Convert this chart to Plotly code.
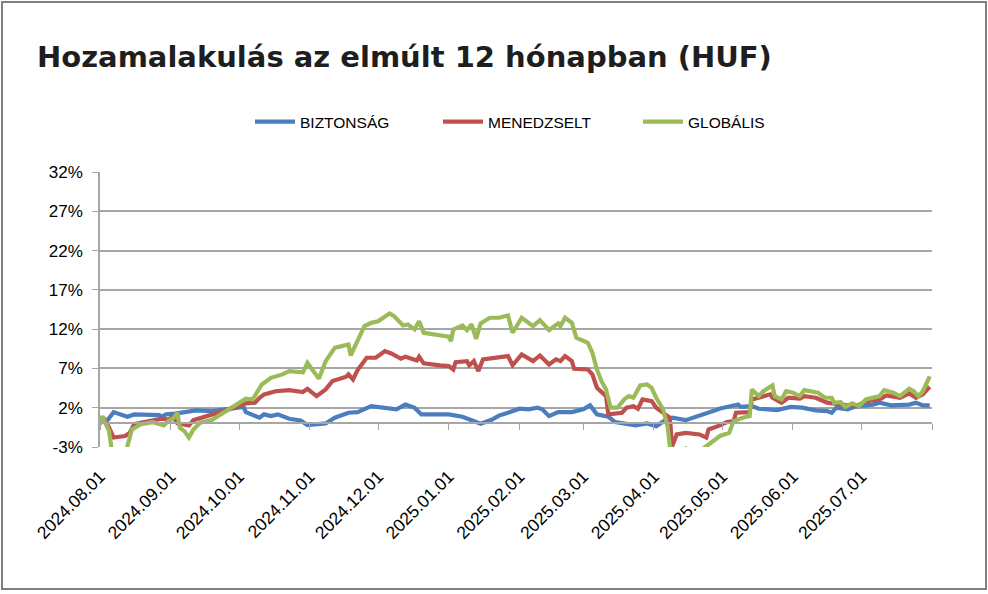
import plotly.graph_objects as go

# ---------------- data ----------------
month_ticks = ["2024-08-01", "2024-09-01", "2024-10-01", "2024-11-01", "2024-12-01", "2025-01-01",
               "2025-02-01", "2025-03-01", "2025-04-01", "2025-05-01", "2025-06-01", "2025-07-01"]
tick_labels = ["2024.08.01", "2024.09.01", "2024.10.01", "2024.11.01", "2024.12.01", "2025.01.01",
               "2025.02.01", "2025.03.01", "2025.04.01", "2025.05.01", "2025.06.01", "2025.07.01"]
axis_end = "2025-08-01"

y_ticks = [-3, 2, 7, 12, 17, 22, 27, 32]

series_names = ["BIZTONSÁG", "MENEDZSELT", "GLOBÁLIS"]

biz_dates = ["2024-08-01", "2024-08-04", "2024-08-07", "2024-08-13", "2024-08-16", "2024-08-27", "2024-08-28", "2024-08-30",
             "2024-09-03", "2024-09-07", "2024-09-12", "2024-09-19", "2024-09-23", "2024-09-29",
             "2024-10-03", "2024-10-04", "2024-10-10", "2024-10-12", "2024-10-15", "2024-10-18", "2024-10-23", "2024-10-28", "2024-10-31",
             "2024-11-08", "2024-11-12", "2024-11-18", "2024-11-22", "2024-11-28",
             "2024-12-04", "2024-12-09", "2024-12-13", "2024-12-17", "2024-12-20",
             "2025-01-01", "2025-01-07", "2025-01-15", "2025-01-20", "2025-01-23", "2025-01-27", "2025-01-29",
             "2025-02-01", "2025-02-05", "2025-02-09", "2025-02-11", "2025-02-14", "2025-02-18", "2025-02-24",
             "2025-03-01", "2025-03-04", "2025-03-07", "2025-03-12", "2025-03-15", "2025-03-20", "2025-03-24", "2025-03-29",
             "2025-04-02", "2025-04-06", "2025-04-09", "2025-04-15", "2025-04-21", "2025-04-27", "2025-04-30",
             "2025-05-04", "2025-05-08", "2025-05-09", "2025-05-14", "2025-05-17", "2025-05-25", "2025-05-31",
             "2025-06-05", "2025-06-11", "2025-06-16", "2025-06-18", "2025-06-20", "2025-06-25", "2025-06-29",
             "2025-07-06", "2025-07-09", "2025-07-14", "2025-07-22", "2025-07-25", "2025-07-28", "2025-07-31"]
biz_values = [0.2, 0.3, 1.44, 0.85, 1.15, 1.06, 0.85, 1.15,
              1.24, 1.44, 1.66, 1.57, 1.7, 2.0,
              2.1, 1.44, 0.73, 1.15, 0.93, 1.15, 0.6, 0.38, -0.2,
              0.0, 0.73, 1.36, 1.44, 2.2,
              2.0, 1.8, 2.4, 2.0, 1.15,
              1.15, 0.85, -0.04, 0.5, 1.0, 1.36, 1.57,
              1.87, 1.8, 2.0, 1.8, 0.93, 1.44, 1.44,
              1.8, 2.3, 1.15, 0.85, 0.17, 0.0, -0.25, 0.0,
              -0.34, 0.42, 0.73, 0.42, 0.93, 1.57, 1.9,
              2.2, 2.4, 2.1, 2.2, 1.87, 1.7, 2.1,
              2.0, 1.66, 1.57, 1.36, 2.0, 1.8, 2.2,
              2.4, 2.64, 2.3, 2.4, 2.64, 2.3, 2.3]

men_dates = ["2024-08-01", "2024-08-03", "2024-08-05", "2024-08-07", "2024-08-12", "2024-08-14", "2024-08-16", "2024-08-21", "2024-08-25", "2024-08-28", "2024-08-31",
             "2024-09-02", "2024-09-04", "2024-09-09", "2024-09-11", "2024-09-16", "2024-09-20", "2024-09-25", "2024-09-29",
             "2024-10-04", "2024-10-08", "2024-10-10", "2024-10-12", "2024-10-17", "2024-10-23", "2024-10-29", "2024-10-31",
             "2024-11-04", "2024-11-08", "2024-11-11", "2024-11-17", "2024-11-18", "2024-11-20", "2024-11-22", "2024-11-26", "2024-11-30",
             "2024-12-04", "2024-12-07", "2024-12-11", "2024-12-13", "2024-12-18", "2024-12-19", "2024-12-21", "2024-12-28",
             "2025-01-01", "2025-01-03", "2025-01-04", "2025-01-09", "2025-01-10", "2025-01-12", "2025-01-14", "2025-01-16", "2025-01-23", "2025-01-27", "2025-01-29",
             "2025-02-02", "2025-02-07", "2025-02-10", "2025-02-14", "2025-02-17", "2025-02-19", "2025-02-21", "2025-02-24", "2025-02-25",
             "2025-03-03", "2025-03-05", "2025-03-07", "2025-03-11", "2025-03-12", "2025-03-18", "2025-03-20", "2025-03-23", "2025-03-25", "2025-03-27", "2025-03-31",
             "2025-04-02", "2025-04-06", "2025-04-08", "2025-04-09", "2025-04-11", "2025-04-15", "2025-04-21", "2025-04-24", "2025-04-25", "2025-04-30",
             "2025-05-03", "2025-05-06", "2025-05-07", "2025-05-13", "2025-05-14", "2025-05-17", "2025-05-22", "2025-05-23", "2025-05-27", "2025-05-30",
             "2025-06-04", "2025-06-06", "2025-06-11", "2025-06-16", "2025-06-21", "2025-06-25", "2025-06-29",
             "2025-07-03", "2025-07-09", "2025-07-12", "2025-07-18", "2025-07-22", "2025-07-25", "2025-07-28", "2025-07-31"]
men_values = [0.0, 0.5, -0.55, -1.8, -1.6, -1.2, -0.1, 0.17, 0.42, 0.6, 0.5,
              0.85, 0.0, -0.25, 0.42, 0.85, 1.15, 1.57, 2.0,
              2.55, 2.64, 3.27, 3.7, 4.1, 4.24, 4.0, 4.4,
              3.48, 4.33, 5.4, 5.95, 6.24, 5.6, 6.8, 8.36, 8.36,
              9.2, 8.87, 8.23, 8.5, 8.0, 8.5, 7.64, 7.38,
              7.3, 6.87, 7.8, 7.93, 7.38, 7.93, 6.66, 8.15, 8.36, 8.57, 7.4,
              8.78, 7.93, 8.65, 7.5, 8.15, 7.93, 8.57, 7.93, 6.96,
              6.87, 6.24, 4.54, 3.48, 1.15, 1.36, 2.0, 2.2, 1.87, 3.06, 2.84,
              2.0, 1.15, 0.73, -2.9, -1.4, -1.2, -1.4, -1.8, -0.76, -0.25,
              0.17, 0.3, 1.36, 1.44, 3.06, 3.27, 3.7, 3.27, 2.64, 3.27,
              3.15, 3.48, 3.27, 2.64, 2.4, 2.3, 2.2,
              2.84, 3.06, 3.57, 3.27, 3.82, 3.27, 3.7, 4.67]

glob_dates = ["2024-08-01", "2024-08-02", "2024-08-03", "2024-08-05", "2024-08-06", "2024-08-08", "2024-08-12", "2024-08-13", "2024-08-15", "2024-08-19", "2024-08-24", "2024-08-27", "2024-08-29", "2024-08-31",
              "2024-09-02", "2024-09-04", "2024-09-05", "2024-09-07", "2024-09-09", "2024-09-11", "2024-09-14", "2024-09-19", "2024-09-23", "2024-09-29",
              "2024-10-04", "2024-10-07", "2024-10-08", "2024-10-11", "2024-10-15", "2024-10-20", "2024-10-23", "2024-10-29", "2024-10-31",
              "2024-11-05", "2024-11-08", "2024-11-12", "2024-11-15", "2024-11-18", "2024-11-19", "2024-11-22", "2024-11-25", "2024-11-28",
              "2024-12-01", "2024-12-06", "2024-12-08", "2024-12-12", "2024-12-14", "2024-12-17", "2024-12-19", "2024-12-21", "2024-12-28",
              "2025-01-01", "2025-01-02", "2025-01-03", "2025-01-07", "2025-01-09", "2025-01-11", "2025-01-13", "2025-01-15", "2025-01-19", "2025-01-23", "2025-01-27", "2025-01-29",
              "2025-02-02", "2025-02-07", "2025-02-10", "2025-02-14", "2025-02-18", "2025-02-19", "2025-02-21", "2025-02-24", "2025-02-26",
              "2025-03-03", "2025-03-05", "2025-03-07", "2025-03-09", "2025-03-11", "2025-03-13", "2025-03-16", "2025-03-19", "2025-03-21", "2025-03-23", "2025-03-26", "2025-03-29", "2025-03-31",
              "2025-04-02", "2025-04-05", "2025-04-07", "2025-04-08", "2025-04-10", "2025-04-15", "2025-04-19", "2025-04-24", "2025-04-30",
              "2025-05-04", "2025-05-06", "2025-05-10", "2025-05-13", "2025-05-14", "2025-05-17", "2025-05-19", "2025-05-23", "2025-05-24", "2025-05-27", "2025-05-29",
              "2025-06-01", "2025-06-04", "2025-06-06", "2025-06-12", "2025-06-15", "2025-06-18", "2025-06-19", "2025-06-22", "2025-06-24", "2025-06-27", "2025-06-30",
              "2025-07-03", "2025-07-09", "2025-07-11", "2025-07-15", "2025-07-18", "2025-07-22", "2025-07-24", "2025-07-26", "2025-07-28", "2025-07-31"]
glob_values = [-0.1, 0.93, 0.3, -0.98, -3.05, -4.5, -4.5, -2.9, -0.76, -0.1, 0.17, 0.0, -0.25, 0.3,
               0.6, 1.36, -0.55, -0.98, -1.8, -0.76, 0.09, 0.42, 1.15, 2.3,
               3.15, 3.06, 3.48, 4.96, 5.8, 6.24, 6.66, 6.5, 7.7,
               5.7, 7.93, 9.63, 9.84, 10.05, 8.65, 10.47, 12.38, 12.8,
               13.0, 14.0, 13.65, 12.47, 12.6, 11.96, 13.0, 11.54, 11.2,
               11.03, 10.47, 11.96, 12.47, 11.87, 12.6, 10.77, 12.73, 13.45, 13.45, 13.74, 11.54,
               13.45, 12.38, 13.14, 11.87, 12.73, 12.38, 13.45, 12.8, 10.9,
               10.27, 9.0, 6.87, 5.38, 4.33, 2.0, 2.0, 3.06, 3.48, 3.27, 4.84, 4.96, 4.54,
               3.27, 1.8, -0.34, -2.9, -5.0, -3.2, -4.0, -2.9, -1.6,
               -1.2, 0.3, 0.73, 0.93, 4.33, 3.48, 4.1, 4.84, 3.48, 3.06, 4.1,
               3.9, 3.48, 4.24, 3.9, 3.27, 3.27, 2.64, 2.7, 2.1, 2.55, 2.2,
               3.06, 3.48, 4.24, 3.9, 3.48, 4.4, 4.1, 3.48, 4.1, 6.0]

colors = ["#4a7ebf", "#c0504d", "#9bbb59"]

# ---------------- figure ----------------
W, H = 988, 594
L, R, T, B = 100, 56, 172, 147
pw, ph = W - L - R, H - T - B

fig = go.Figure()
all_dates = [biz_dates, men_dates, glob_dates]
all_vals = [biz_values, men_values, glob_values]
legend_ids = ["legend", "legend2", "legend3"]
for name, d, v, c, lg in zip(series_names, all_dates, all_vals, colors, legend_ids):
    fig.add_trace(go.Scatter(x=d, y=v, mode="lines", name=name,
                             line=dict(color=c, width=4.2), legend=lg))

# helper trace for the zero-crossing date axis (ticks only)
fig.add_trace(go.Scatter(x=[month_ticks[0], axis_end], y=[None, None], xaxis="x2",
                         showlegend=False, hoverinfo="skip", mode="lines"))

tick_font = dict(family="Liberation Sans, Arial, sans-serif", size=17, color="#000000")
xtick_font = dict(family="Liberation Sans, Arial, sans-serif", size=17.5, color="#000000")
leg_font = dict(family="Liberation Sans, Arial, sans-serif", size=15.5, color="#000000")
grid_col = "#a6a6a6"

y_min, y_max = y_ticks[0], y_ticks[-1]

fig.update_layout(
    width=W, height=H,
    margin=dict(l=L, r=R, t=T, b=B, pad=0),
    paper_bgcolor="white", plot_bgcolor="white",
    title=dict(text="<b>Hozamalakulás az elmúlt 12 hónapban (HUF)</b>",
               font=dict(family="DejaVu Sans, sans-serif", size=29, color="#1e1e1e"),
               x=37 / W, xanchor="left", xref="container",
               y=1 - 57 / H, yanchor="middle", yref="container"),
    xaxis=dict(type="date", range=[month_ticks[0], axis_end],
               tickmode="array", tickvals=month_ticks, ticktext=tick_labels,
               tickangle=-45, tickfont=xtick_font, ticks="", showline=False,
               showgrid=False, zeroline=False, ticklabelstandoff=15),
    xaxis2=dict(type="date", overlaying="x", matches="x", anchor="free",
                position=(0 - y_min) / (y_max - y_min),
                tickmode="array", tickvals=month_ticks + [axis_end],
                showticklabels=False, ticks="outside", ticklen=6, tickwidth=1.3,
                tickcolor=grid_col, showline=True, linecolor=grid_col, linewidth=1.5,
                showgrid=False, zeroline=False),
    yaxis=dict(range=[y_min, y_max], tickmode="array", tickvals=y_ticks,
               ticktext=[f"{t}%" for t in y_ticks], tickfont=tick_font,
               showgrid=True, gridcolor=grid_col, gridwidth=1.5,
               showline=True, linecolor=grid_col, linewidth=1.5,
               ticks="outside", ticklen=6, tickcolor=grid_col, tickwidth=1.3,
               zeroline=False, ticklabelstandoff=6),
    showlegend=True,
)

leg_y = (H - B - 122) / ph
for lg, px in zip(legend_ids, [250, 438, 638]):
    fig.update_layout({lg: dict(x=(px - L) / pw, xanchor="left", y=leg_y, yanchor="middle",
                                orientation="h", font=leg_font, bgcolor="rgba(0,0,0,0)",
                                itemwidth=40)})

# outer chart border
fig.add_shape(type="rect", xref="paper", yref="paper",
              x0=(2 - L) / pw, x1=(986 - L) / pw,
              y0=(H - B - 589) / ph, y1=(H - B - 2) / ph,
              line=dict(color="#7f7f7f", width=2), fillcolor="rgba(0,0,0,0)", layer="below")

fig.write_html("out.html", config={"displayModeBar": False},
               post_script="document.body.style.margin='0';document.body.style.overflow='hidden';")
